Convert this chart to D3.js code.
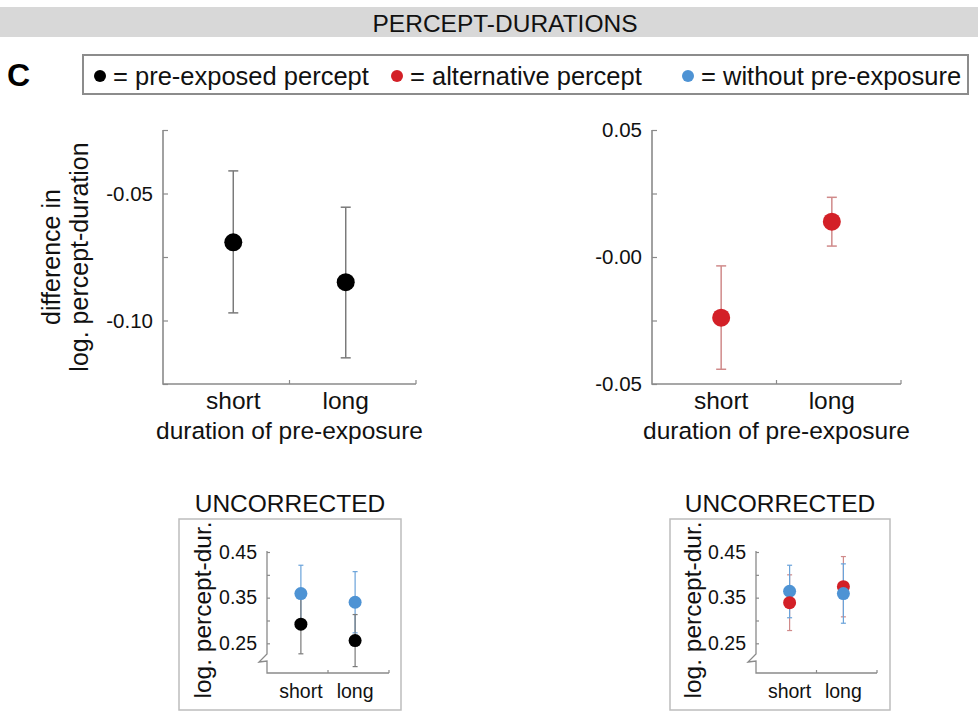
<!DOCTYPE html>
<html><head><meta charset="utf-8">
<script src="https://cdn.jsdelivr.net/npm/d3@7"></script>
<style>
html,body{margin:0;padding:0;background:#fff;}
svg{display:block;font-family:"Liberation Sans",Arial,Helvetica,sans-serif;}
</style></head>
<body>
<svg id="c" width="978" height="712"></svg>
<script>
// ---------- data ----------
const categories = ["short", "long"];
const categoryPos = [1, 2];

// main panels: difference in log. percept-duration
const diffPreMean = [-0.0692, -0.0849];
const diffPreLow  = [-0.0970, -0.1147];
const diffPreHigh = [-0.0411, -0.0554];

const diffAltMean = [-0.0239, 0.0139];
const diffAltLow  = [-0.0442, 0.0043];
const diffAltHigh = [-0.0035, 0.0235];

const leftTicks = [-0.125, -0.10, -0.075, -0.05, -0.025];
const leftTickLabels = ["", "-0.10", "", "-0.05", ""];
const rightTicks = [-0.05, -0.025, 0, 0.025, 0.05];
const rightTickLabels = ["-0.05", "", "-0.00", "", "0.05"];

// insets: uncorrected log. percept-duration
const uncPreMean = [0.292, 0.256];
const uncPreLow  = [0.227, 0.199];
const uncPreHigh = [0.357, 0.313];
const uncWithoutLMean = [0.359, 0.340];
const uncWithoutLLow  = [0.297, 0.273];
const uncWithoutLHigh = [0.421, 0.407];

const uncAltMean = [0.339, 0.374];
const uncAltLow  = [0.278, 0.308];
const uncAltHigh = [0.400, 0.440];
const uncWithoutRMean = [0.364, 0.359];
const uncWithoutRLow  = [0.306, 0.294];
const uncWithoutRHigh = [0.421, 0.424];

const insetTicks = [0.25, 0.30, 0.35, 0.40, 0.45];
const insetTickLabels = ["0.25", "", "0.35", "", "0.45"];

const legendLabels = ["= pre-exposed percept", "= alternative percept", "= without pre-exposure"];

// ---------- style ----------
const C_BLACK = "#000000", C_RED = "#d32027", C_BLUE = "#4e93d4";
const E_BLACK = "#7a7a7a", E_RED = "#d08a8a", E_BLUE = "#6aa3da";
const AXIS = "#8a8a8a";
const FS = 24.5;

const svg = d3.select("#c");

// header band
svg.append("rect").attr("x", 0).attr("y", 7).attr("width", 978).attr("height", 30).attr("fill", "#d8d8d8");
svg.append("text").attr("x", 505).attr("y", 23).attr("text-anchor", "middle")
  .attr("dominant-baseline", "central").attr("font-size", 24.5).attr("fill", "#111").text("PERCEPT-DURATIONS");

// panel letter
svg.append("text").attr("x", 7).attr("y", 86).attr("font-size", 32).attr("font-weight", "bold").text("C");

// legend
svg.append("rect").attr("x", 83).attr("y", 55).attr("width", 885).attr("height", 39)
  .attr("fill", "#fff").attr("stroke", "#8c8c8c").attr("stroke-width", 2);
const legX = [100, 397, 688];
const legCol = [C_BLACK, C_RED, C_BLUE];
legendLabels.forEach((t, i) => {
  svg.append("circle").attr("cx", legX[i]).attr("cy", 76).attr("r", 6).attr("fill", legCol[i]);
  svg.append("text").attr("x", legX[i] + 13).attr("y", 76).attr("dominant-baseline", "central")
    .attr("font-size", 25.5).attr("fill", "#111").text(t);
});

// ---------- helpers ----------
function drawErr(g, x, y, pos, lo, hi, color, cap, sw) {
  pos.forEach((p, i) => {
    g.append("line").attr("x1", x(p)).attr("x2", x(p)).attr("y1", y(lo[i])).attr("y2", y(hi[i]))
      .attr("stroke", color).attr("stroke-width", sw);
    [lo[i], hi[i]].forEach(v => g.append("line").attr("x1", x(p) - cap).attr("x2", x(p) + cap)
      .attr("y1", y(v)).attr("y2", y(v)).attr("stroke", color).attr("stroke-width", sw));
  });
}

function yAxis(g, y, x0, ticks, labels, fs, tickLen) {
  const ax = d3.axisLeft(y).tickValues(ticks).tickSizeInner(-tickLen).tickSizeOuter(0).tickPadding(10)
    .tickFormat((d, i) => labels[i]);
  const a = g.append("g").attr("transform", `translate(${x0},0)`).call(ax);
  a.select(".domain").remove();
  a.selectAll(".tick line").attr("stroke", AXIS).attr("stroke-width", 1.2);
  a.selectAll(".tick text").attr("font-size", fs).attr("fill", "#111")
    .attr("font-family", '"Liberation Sans",Arial,sans-serif');
}

function xTicks(g, x, yb, vals, len) {
  vals.forEach(v => g.append("line").attr("x1", x(v)).attr("x2", x(v)).attr("y1", yb).attr("y2", yb - len)
    .attr("stroke", AXIS).attr("stroke-width", 1.2));
}

// ---------- main panels ----------
function mainPanel(opts) {
  const g = svg.append("g");
  const x = d3.scaleLinear().domain([0.375, 2.625]).range([opts.x0, opts.x1]);
  const y = d3.scaleLinear().domain(opts.ydom).range([384, 130]);
  g.append("path").attr("d", `M${opts.x0},${y.range()[1]}V${y.range()[0]}H${opts.x1}`)
    .attr("fill", "none").attr("stroke", AXIS).attr("stroke-width", 1.6);
  yAxis(g, y, opts.x0, opts.ticks, opts.labels, 20.5, 5);
  xTicks(g, x, 384, [1.5, 2.625], 4);
  drawErr(g, x, y, categoryPos, opts.lo, opts.hi, opts.ecol, 5, 1.5);
  g.selectAll("circle.m").data(opts.mean).enter().append("circle")
    .attr("cx", (d, i) => x(categoryPos[i])).attr("cy", d => y(d)).attr("r", 9).attr("fill", opts.col);
  categories.forEach((c, i) => g.append("text").attr("x", x(categoryPos[i])).attr("y", 409)
    .attr("text-anchor", "middle").attr("font-size", FS).attr("fill", "#111").text(c));
  g.append("text").attr("x", x(1.5)).attr("y", 439).attr("text-anchor", "middle")
    .attr("font-size", FS).attr("fill", "#111").text("duration of pre-exposure");
  return g;
}

const gl = mainPanel({x0: 163, x1: 416, ydom: [-0.125, -0.025], ticks: leftTicks, labels: leftTickLabels,
  mean: diffPreMean, lo: diffPreLow, hi: diffPreHigh, col: C_BLACK, ecol: E_BLACK});
gl.append("text").attr("transform", "translate(60,257) rotate(-90)").attr("text-anchor", "middle")
  .attr("font-size", FS + 0.5).attr("fill", "#111").text("difference in");
gl.append("text").attr("transform", "translate(88,257) rotate(-90)").attr("text-anchor", "middle")
  .attr("font-size", FS + 0.5).attr("fill", "#111").text("log. percept-duration");

mainPanel({x0: 652, x1: 901, ydom: [-0.05, 0.05], ticks: rightTicks, labels: rightTickLabels,
  mean: diffAltMean, lo: diffAltLow, hi: diffAltHigh, col: C_RED, ecol: E_RED});

// ---------- insets ----------
function inset(opts) {
  const g = svg.append("g");
  g.append("text").attr("x", (opts.bx0 + opts.bx1) / 2).attr("y", 503).attr("text-anchor", "middle")
    .attr("dominant-baseline", "central").attr("font-size", FS).attr("fill", "#111").text("UNCORRECTED");
  g.append("rect").attr("x", opts.bx0).attr("y", 519).attr("width", opts.bx1 - opts.bx0).attr("height", 191)
    .attr("fill", "#fff").attr("stroke", "#bdbdbd").attr("stroke-width", 1.5);
  const x = d3.scaleLinear().domain([0.375, 2.625]).range([opts.x0, opts.x1]);
  const y = d3.scaleLinear().domain([0.185, 0.45]).range([673, 552]);
  const a = opts.x0;
  g.append("path").attr("d", `M${a},${y(0.452)}V654L${a - 8},662L${a},661V673H${opts.x1}`)
    .attr("fill", "none").attr("stroke", AXIS).attr("stroke-width", 1.3);
  yAxis(g, y, a, insetTicks, insetTickLabels, 19.5, 3);
  xTicks(g, x, 673, [1.5, 2.625], 3);
  // series: draw error bars then dots; lower values drawn later (on top)
  opts.series.forEach(s => drawErr(g, x, y, categoryPos, s.lo, s.hi, s.ecol, 2.5, 1.2));
  const pts = [];
  opts.series.forEach(s => s.mean.forEach((m, i) => pts.push({p: categoryPos[i], v: m, col: s.col})));
  pts.sort((p, q) => q.v - p.v);
  g.selectAll("circle.d").data(pts).enter().append("circle")
    .attr("cx", d => x(d.p)).attr("cy", d => y(d.v)).attr("r", 6.5).attr("fill", d => d.col);
  categories.forEach((c, i) => g.append("text").attr("x", x(categoryPos[i])).attr("y", 698)
    .attr("text-anchor", "middle").attr("font-size", 19.5).attr("fill", "#111").text(c));
  g.append("text").attr("transform", `translate(${opts.lx},610) rotate(-90)`).attr("text-anchor", "middle")
    .attr("font-size", FS).attr("fill", "#111").text("log. percept-dur.");
}

inset({bx0: 179, bx1: 401, x0: 267, x1: 389, lx: 211, series: [
  {mean: uncWithoutLMean, lo: uncWithoutLLow, hi: uncWithoutLHigh, col: C_BLUE, ecol: E_BLUE},
  {mean: uncPreMean, lo: uncPreLow, hi: uncPreHigh, col: C_BLACK, ecol: E_BLACK}
]});
inset({bx0: 670, bx1: 890, x0: 756, x1: 877, lx: 701, series: [
  {mean: uncAltMean, lo: uncAltLow, hi: uncAltHigh, col: C_RED, ecol: E_RED},
  {mean: uncWithoutRMean, lo: uncWithoutRLow, hi: uncWithoutRHigh, col: C_BLUE, ecol: E_BLUE}
]});
</script>
</body></html>
